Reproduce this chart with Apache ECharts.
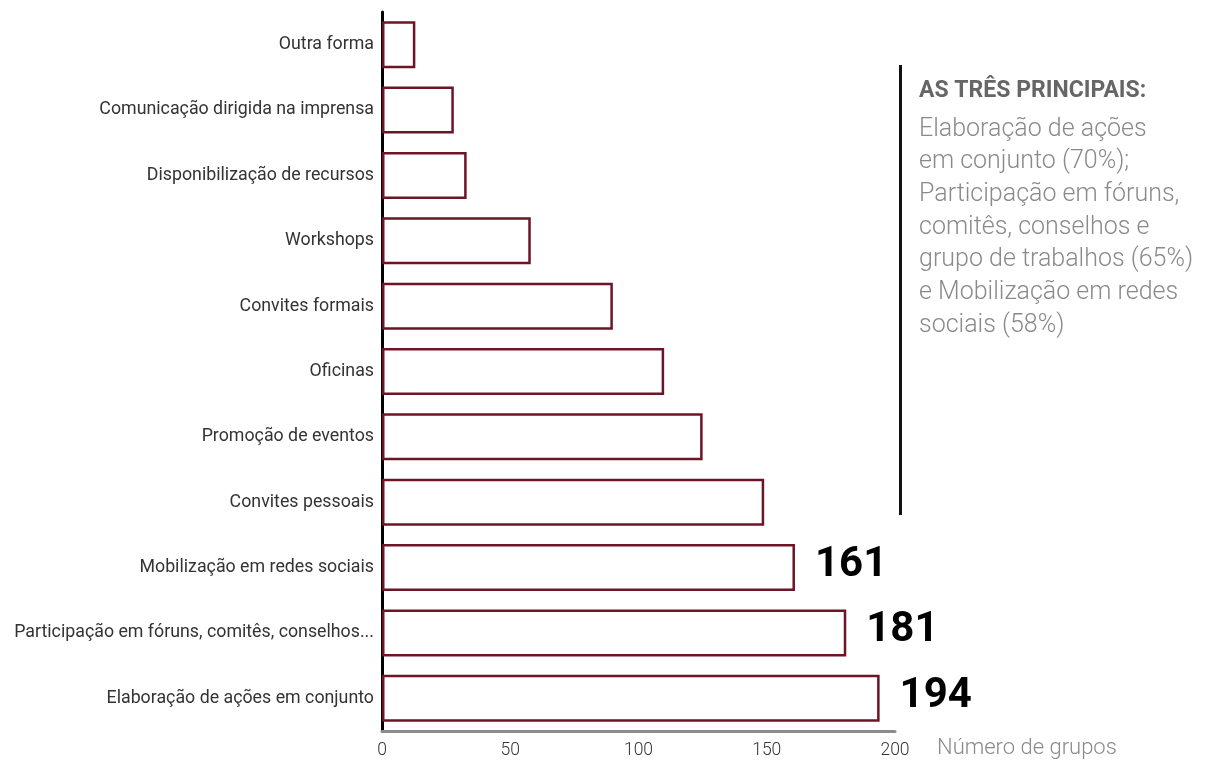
<!DOCTYPE html>
<html><head><meta charset="utf-8">
<script src="https://cdn.jsdelivr.net/npm/echarts@6/dist/echarts.min.js"></script>
<style>html,body{margin:0;padding:0;background:#fff}#c{width:1209px;height:763px}</style>
</head><body><div id="c"></div>
<script>
const categories = ["Outra forma","Comunicação dirigida na imprensa","Disponibilização de recursos","Workshops","Convites formais","Oficinas","Promoção de eventos","Convites pessoais","Mobilização em redes sociais","Participação em fóruns, comitês, conselhos...","Elaboração de ações em conjunto"];
const values = [13, 28, 33, 58, 90, 110, 125, 149, 161, 181, 194];
const highlighted = [8, 9, 10];
const xTicks = [0, 50, 100, 150, 200];
const axisName = "Número de grupos";
const noteTitle = "AS TRÊS PRINCIPAIS:";
const noteLines = ["Elaboração de ações","em conjunto (70%);","Participação em fóruns,","comitês, conselhos e","grupo de trabalhos (65%)","e Mobilização em redes","sociais (58%)"];

const FONT = "Roboto";
const chart = echarts.init(document.getElementById('c'));
chart.setOption({
  animation: false,
  grid: {left: 382, right: 314, top: 12, bottom: 32, containLabel: false},
  xAxis: {
    type: 'value', min: xTicks[0], max: xTicks[xTicks.length-1], interval: 50,
    axisLine: {show: true, lineStyle: {color: '#8c8c8c', width: 3}},
    axisTick: {show: false}, splitLine: {show: false},
    axisLabel: {color: '#333', fontFamily: FONT, fontWeight: 300, fontSize: 17.5, margin: 11},
    name: axisName, nameLocation: 'end', nameGap: 42,
    nameTextStyle: {color: '#8a8a8a', fontFamily: FONT, fontSize: 22, fontWeight: 300, verticalAlign: 'top', padding: [6,0,0,0]}
  },
  yAxis: {
    type: 'category', data: categories, inverse: true,
    axisLine: {show: true, lineStyle: {color: '#000', width: 3}},
    axisTick: {show: false},
    axisLabel: {color: '#333', fontFamily: FONT, fontWeight: 400, fontSize: 17.8, margin: 8}
  },
  series: [{
    type: 'bar', barWidth: 47,
    data: values.map((v, i) => ({
      value: v,
      label: {show: highlighted.includes(i)}
    })),
    itemStyle: {color: '#fff', borderColor: '#6d1426', borderWidth: 2.5},
    label: {position: 'right', distance: 20, offset: [0, -2], color: '#000', fontFamily: FONT, fontWeight: 'bold', fontSize: 42}
  }],
  graphic: [
    {type: 'rect', shape: {x: 899, y: 65, width: 3, height: 450}, style: {fill: '#111'}},
    {type: 'text', left: 919, top: 80, style: {text: noteTitle, fill: '#666', font: 'bold 23px ' + FONT}},
    {type: 'text', left: 919, top: 113, style: {text: noteLines.join('\n'), fill: '#8a8a8a', font: '300 25px ' + FONT, lineHeight: 32.7}}
  ]
});
</script></body></html>
